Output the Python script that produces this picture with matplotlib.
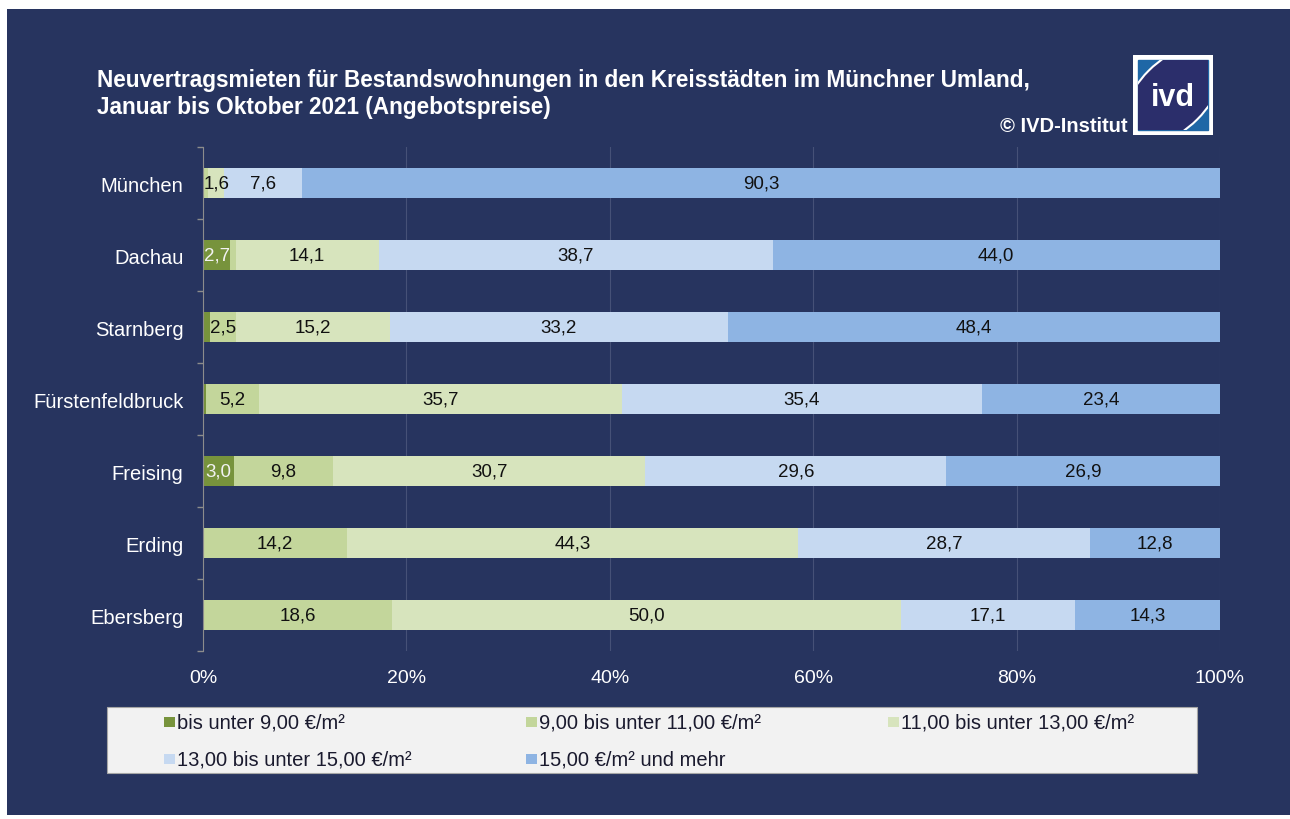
import numpy as np
import matplotlib.pyplot as plt
import matplotlib.patches as pth

plt.rcParams['font.family'] = ['Liberation Sans', 'DejaVu Sans']

cities = ['München', 'Dachau', 'Starnberg', 'Fürstenfeldbruck',
          'Freising', 'Erding', 'Ebersberg']
series = ['bis unter 9,00 €/m²', '9,00 bis unter 11,00 €/m²',
          '11,00 bis unter 13,00 €/m²', '13,00 bis unter 15,00 €/m²',
          '15,00 €/m² und mehr']
under9 = [0.0, 2.7, 0.7, 0.3, 3.0, 0.0, 0.0]
from9 = [0.5, 0.5, 2.5, 5.2, 9.8, 14.2, 18.6]
from11 = [1.6, 14.1, 15.2, 35.7, 30.7, 44.3, 50.0]
from13 = [7.6, 38.7, 33.2, 35.4, 29.6, 28.7, 17.1]
from15 = [90.3, 44.0, 48.4, 23.4, 26.9, 12.8, 14.3]
xticks = [0, 20, 40, 60, 80, 100]

title = ('Neuvertragsmieten für Bestandswohnungen in den Kreisstädten im Münchner Umland,\n'
         'Januar bis Oktober 2021 (Angebotspreise)')
colors = ['#77933c', '#c3d69b', '#d7e4bd', '#c6d9f1', '#8eb4e3']
navy = '#27345f'
W, H = 1290, 820


def fx(px):
    return px/W


def fy(py):
    return 1-py/H


figure = plt.figure(figsize=(W/100, H/100), dpi=100)
figure.patch.set_facecolor('white')
figure.add_artist(pth.Rectangle((fx(7), fy(816)), fx(W-7), 806/H,
                                transform=figure.transFigure,
                                facecolor=navy, edgecolor='none', zorder=0))

axes = figure.add_axes([fx(203), fy(652), fx(1220-203), 504/H])
axes.set_facecolor('none')
data = np.array([under9, from9, from11, from13, from15])
ypos = np.arange(len(cities))
left = np.zeros(len(cities))
for index, values in enumerate(data):
    axes.barh(ypos, values, left=left, height=0.42, color=colors[index],
              edgecolor='none', zorder=3)
    for y, (x0, value) in enumerate(zip(left, values)):
        if value >= 1:
            axes.text(x0+value/2, y, ('%.1f' % value).replace('.', ','),
                      ha='center', va='center', fontsize=13.5, zorder=4,
                      color='#f2f2f2' if index == 0 else '#111111')
    left += values

axes.set_xlim(0, 100)
axes.set_ylim(len(cities)-0.5, -0.5)
axes.set_xticks(xticks)
axes.set_xticklabels(['%d%%' % t for t in xticks])
axes.set_yticks(ypos)
axes.set_yticklabels(cities)
axes.set_yticks(np.arange(len(cities)+1)-0.5, minor=True)
axes.tick_params(axis='x', length=0, pad=13, labelsize=14, labelcolor='white')
axes.tick_params(axis='y', which='major', length=0, pad=14, labelsize=14.5,
                 labelcolor='white')
axes.tick_params(axis='y', which='minor', length=4, width=1, color='#8c8c8c')
axes.grid(axis='x', color='#465177', linewidth=0.8, zorder=0)
for side in ['top', 'right', 'bottom']:
    axes.spines[side].set_visible(False)
axes.spines['left'].set_color('#8c8c8c')
axes.spines['left'].set_zorder(5)

figure.text(fx(97), fy(94), title, color='white', fontsize=16.3,
            fontweight='bold', ha='left', va='center', linespacing=1.25)
figure.text(fx(1128), fy(127), '© IVD-Institut', color='white', fontsize=14.5,
            fontweight='bold', ha='right', va='center')

# logo
logo = figure.add_axes([fx(1133), fy(136), fx(80), 80/H])
logo.set_xlim(0, 1)
logo.set_ylim(0, 1)
logo.axis('off')
logo.add_patch(pth.Rectangle((0, 0), 1, 1, color='white'))
inner = pth.Rectangle((0.06, 0.06), 0.88, 0.88, color='#1f67a6')
logo.add_patch(inner)
blob = pth.Ellipse((0.5, 0.5), 1.5, 0.86, angle=45, facecolor='#2b2e6b',
                   edgecolor='white', linewidth=1.5)
logo.add_patch(blob)
blob.set_clip_path(inner)
logo.text(0.5, 0.47, 'ivd', color='white', fontsize=22, fontweight='bold',
          ha='center', va='center')

# legend
figure.add_artist(pth.Rectangle((fx(107), fy(774)), fx(1197-107), 66/H,
                                transform=figure.transFigure,
                                facecolor='#f2f2f2', edgecolor='#a6a6a6',
                                linewidth=0.8))
slots = [(164, 723), (526, 723), (888, 723), (164, 760), (526, 760)]
for (x, y), label, color in zip(slots, series, colors):
    figure.add_artist(pth.Rectangle((fx(x), fy(y+5)), fx(11), 10/H,
                                    transform=figure.transFigure,
                                    facecolor=color, edgecolor='none'))
    figure.text(fx(x+13), fy(y), label, color='#1a1a2e', fontsize=14.5,
                ha='left', va='center')

figure.savefig('out.png', dpi=100, facecolor='white')
